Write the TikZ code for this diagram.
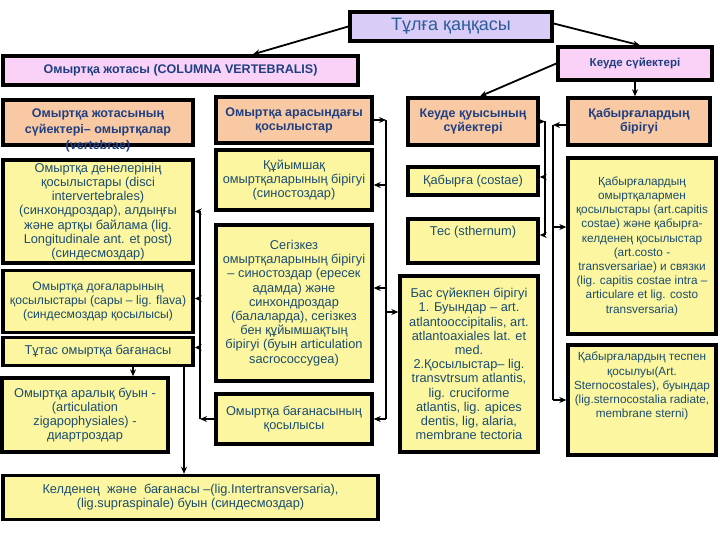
\documentclass[tikz,border=0pt]{standalone}
\usepackage{fontspec}
\setmainfont{Liberation Sans}
\usetikzlibrary{arrows.meta,calc}
\definecolor{yel}{HTML}{FCF6A0}
\definecolor{peach}{HTML}{F9C9A4}
\definecolor{pinkb}{HTML}{FAD2F8}
\definecolor{lav}{HTML}{D9CCF6}
\definecolor{txt}{HTML}{1B4D70}
\definecolor{hdr}{HTML}{1F3F80}
\definecolor{ttl}{HTML}{2C5C9C}
\tikzset{
  bx/.style={draw=black, line width=3.4pt, align=center, inner sep=1pt},
  ybox/.style={bx, fill=yel, text=txt, font=\fontsize{12.8}{14.2}\selectfont},
  obox/.style={bx, fill=peach, text=hdr, font=\bfseries\fontsize{12.5}{14}\selectfont},
  pbox/.style={bx, fill=pinkb, text=hdr, font=\bfseries\fontsize{12.5}{14}\selectfont},
  plain/.style={align=center, inner sep=0pt, text=txt, font=\fontsize{12.8}{14.2}\selectfont},
  small/.style={font=\fontsize{11.8}{14.2}\selectfont},
  ln/.style={line width=1.8pt},
  arr/.style={ln, -{Stealth[length=7pt,width=6pt]}},
}
\begin{document}
\begin{tikzpicture}[x=1pt,y=-1pt]
\useasboundingbox (0,0) rectangle (720,540);
% title and top-level
\node[bx, fill=lav, text=ttl, font=\fontsize{18}{20}\selectfont, minimum width=202, minimum height=29] (title) at (451,26.5) {Тұлға қаңқасы};
\node[pbox, font=\bfseries\fontsize{11.5}{14}\selectfont, minimum width=154, minimum height=33] (keude) at (635,63.5) {Кеуде сүйектері};
\node[pbox, minimum width=355, minimum height=29] (omzhot) at (180.5,70.5) {Омыртқа жотасы (COLUMNA VERTEBRALIS)};
% column 1
\node[obox, minimum width=190, minimum height=45] (c1h) at (98,122.5) {};
\node[plain, text=hdr, font=\bfseries\fontsize{12.5}{16}\selectfont] (c1ht) at (98,130) {Омыртқа жотасының\\ сүйектері– омыртқалар\\ (vertebrae)};
\node[ybox, minimum width=190, minimum height=103] (c1b2) at (98,211.5) {Омыртқа денелерінің\\ қосылыстары (disci\\ intervertebrales)\\ (синхондроздар), алдыңғы\\ және артқы байлама (lig.\\ Longitudinale ant. et post)\\ (синдесмоздар)};
\node[ybox, font=\fontsize{12.2}{14.2}\selectfont, minimum width=190, minimum height=62] (c1b3) at (98,301.5) {Омыртқа доғаларының\\ қосылыстары (сары – lig. flava)\\ (синдесмоздар қосылысы)};
\node[ybox, minimum width=190, minimum height=28] (c1b4) at (98,351.5) {Тұтас омыртқа бағанасы};
\node[ybox, minimum width=166, minimum height=74] (c1b5) at (85,415) {Омыртқа аралық буын -\\ (articulation\\ zigapophysiales) -\\ диартроздар};
\node[ybox, minimum width=375, minimum height=44] (bottom) at (190.5,497.5) {Келденең\ \ және\ \ бағанасы –(lig.Intertransversaria),\\ (lig.supraspinale) буын (синдесмоздар)};
% column 2
\node[obox, minimum width=156, minimum height=46] (c2h) at (294,120) {Омыртқа арасындағы\\ қосылыстар};
\node[ybox, minimum width=156, minimum height=60] (c2b2) at (294,180) {Құйымшақ\\ омыртқаларының бірігуі\\ (синостоздар)};
\node[ybox, minimum width=156, minimum height=156] (c2b3) at (294,303) {Сегізкез\\ омыртқаларының бірігуі\\ – синостоздар (ересек\\ адамда) және\\ синхондроздар\\ (балаларда), сегізкез\\ бен құйымшақтың\\ бірігуі (буын articulation\\ sacrococcygea)};
\node[ybox, minimum width=156, minimum height=50] (c2b4) at (294,419) {Омыртқа бағанасының\\ қосылысы};
% column 3
\node[obox, minimum width=130, minimum height=47] (c3h) at (473,121.5) {Кеуде қуысының\\ сүйектері};
\node[ybox, minimum width=130, minimum height=28] (c3b2) at (473,181) {Қабырға (costae)};
\node[ybox, minimum width=130, minimum height=44] (c3b3) at (473,241) {};
\node[plain] (c3b3t) at (473,232) {Тес (sthernum)};
\node[ybox, minimum width=138, minimum height=176] (c3b4) at (469,364) {Бас сүйекпен бірігуі\\ 1. Буындар – art.\\ atlantooccipitalis, art.\\ atlantoaxiales lat. et\\ med.\\ 2.Қосылыстар– lig.\\ transvtrsum atlantis,\\ lig. cruciforme\\ atlantis, lig. apices\\ dentis, lig, alaria,\\ membrane tectoria};
% column 4
\node[obox, minimum width=142, minimum height=47] (c4h) at (639,121.5) {Қабырғалардың\\ бірігуі};
\node[ybox, small, minimum width=148, minimum height=176] (c4b2) at (642,246) {Қабырғалардың\\ омыртқалармен\\ қосылыстары (art.capitis\\ costae) және қабырға-\\ келденең қосылыстар\\ (art.costo -\\ transversariae) и связки\\ (lig. capitis costae intra –\\ articulare et lig. costo\\ transversaria)};
\node[ybox, minimum width=148, minimum height=110] (c4b3) at (642,400) {};
\node[plain, small, anchor=north] (c4b3t) at (642,352) {Қабырғалардың теспен\\ қосылуы(Art.\\ Sternocostales), буындар\\ (lig.sternocostalia radiate,\\ membrane sterni)};
% top connectors
\draw[arr] (title.west) -- ([xshift=72.5]omzhot.north);
\draw[arr] ([yshift=3]title.east) -- ([xshift=5]keude.north);
\draw[arr] (keude.west) -- ([xshift=7]c3h.north);
\draw[arr] (keude.south) -- (keude.south |- c4h.north);
% trunks
\coordinate (t1) at (200,0);
\coordinate (t2) at (386,0);
\coordinate (t3) at (545,0);
\coordinate (t4) at (553,0);
% column 1 group
\draw[arr] (c2b4.west) -- (t1 |- c2b4.west);
\draw[ln] (t1 |- c2b4.west) -- (t1 |- c1b2.east);
\draw[arr] (t1 |- c1b2.east) -- (c1b2.east);
\draw[arr] ([yshift=3]t1 |- c1b3.east) -- ([yshift=3]c1b3.east);
\draw[arr] ([yshift=4]t1 |- c1b4.east) -- ([yshift=4]c1b4.east);
\draw[arr] ([xshift=35]c1b4.south) -- ([xshift=35]c1b4.south |- c1b5.north);
\draw[arr] ([xshift=86]c1b4.south) -- ([xshift=86]c1b4.south |- bottom.north);
% column 2 group
\draw[arr] (c2h.east) -- (t2 |- c2h.east);
\draw[ln] (t2 |- c2h.east) -- (t2 |- c2b4.east);
\draw[arr] ([yshift=-5]t2 |- c2b2.east) -- ([yshift=-5]c2b2.east);
\draw[arr] ([yshift=15]t2 |- c2b3.east) -- ([yshift=15]c2b3.east);
\draw[arr] (t2 |- c2b4.east) -- (c2b4.east);
\draw[arr] ([yshift=52]t2 |- c3b4.west) -- ([yshift=52]c3b4.west);
% column 3 group
\draw[arr] (c3h.east) -- (t3 |- c3h.east);
\draw[ln] (t3 |- c3h.east) -- ([yshift=6]t3 |- c3b3.east);
\draw[arr] ([yshift=4]t3 |- c3b2.east) -- ([yshift=4]c3b2.east);
\draw[arr] ([yshift=6]t3 |- c3b3.east) -- ([yshift=6]c3b3.east);
% column 4 group
\draw[arr] ([yshift=-3.5]c4h.west) -- ([yshift=-3.5]t4 |- c4h.west);
\draw[ln] ([yshift=-3.5]t4 |- c4h.west) -- (t4 |- c4b3.west);
\draw[arr] ([yshift=19]t4 |- c4b2.west) -- ([yshift=19]c4b2.west);
\draw[arr] (t4 |- c4b3.west) -- (c4b3.west);
\end{tikzpicture}
\end{document}
